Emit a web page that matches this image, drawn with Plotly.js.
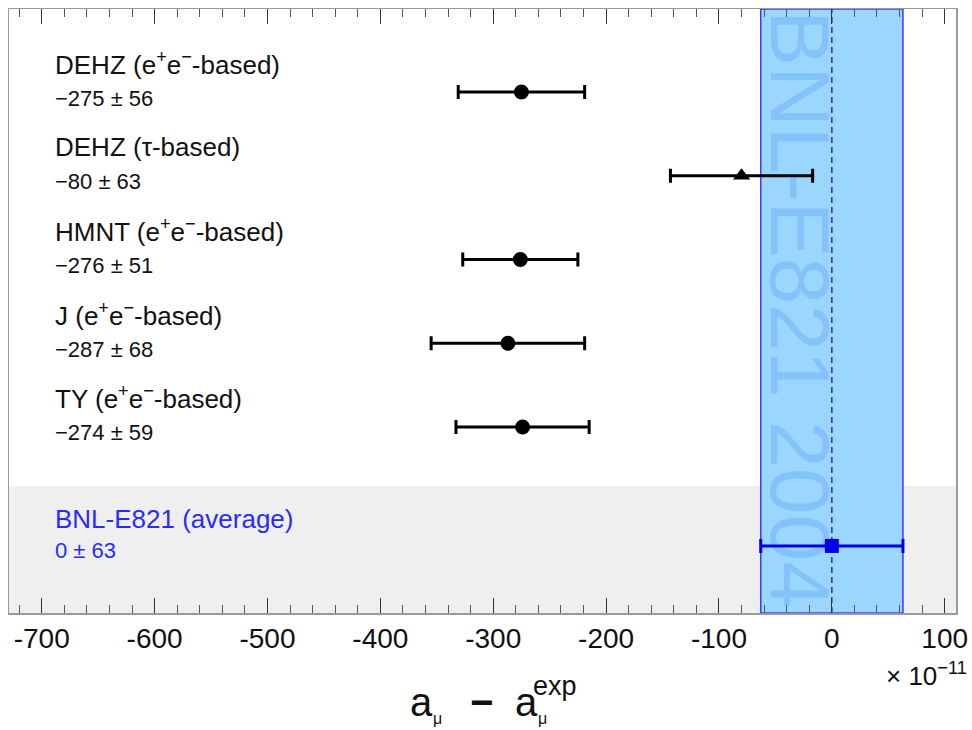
<!DOCTYPE html>
<html>
<head>
<meta charset="utf-8">
<script src="https://cdn.plot.ly/plotly-3.0.1.min.js"></script>
<style>html,body{margin:0;padding:0;background:#fff;}#chart{width:972px;height:730px;}</style>
</head>
<body>
<div id="chart"></div>
<script>
// ---- data ----
const names = [
  "DEHZ (e<sup>+</sup>e<sup>−</sup>-based)",
  "DEHZ (τ-based)",
  "HMNT (e<sup>+</sup>e<sup>−</sup>-based)",
  "J (e<sup>+</sup>e<sup>−</sup>-based)",
  "TY (e<sup>+</sup>e<sup>−</sup>-based)",
  "BNL-E821 (average)"
];
const values = [-275, -80, -276, -287, -274, 0];
const errors = [56, 63, 51, 68, 59, 63];
const markerKinds = ["circle", "triangle-up", "circle", "circle", "circle", "square"];
const tickValues = [-700, -600, -500, -400, -300, -200, -100, 0, 100];
const tickLabels = ["-700", "-600", "-500", "-400", "-300", "-200", "-100", "0", "100"];
const bandLabel = "BNL-E821 2004";

// ---- layout helpers ----
const L = 9, R = 956, T = 9, B = 613;
const W = R - L, H = B - T;
const px = x => (x - L) / W;
const py = y => (B - y) / H;
const rowY = names.map((_, i) => i < 5 ? i : 5.42);
const isRef = names.map((_, i) => i === 5);
const FONT = "Liberation Sans, Arial, Helvetica, sans-serif";

function makeTrace(kind, color, size) {
  const idx = values.map((_, i) => i).filter(i => markerKinds[i] === kind);
  return {
    type: "scatter", mode: "markers",
    x: idx.map(i => values[i]), y: idx.map(i => rowY[i]),
    error_x: { type: "data", array: idx.map(i => errors[i]), visible: true,
               color: color, thickness: 3, width: 7 },
    marker: { symbol: kind, color: color, size: size },
    hoverinfo: "skip", showlegend: false, cliponaxis: false
  };
}
const traces = [
  makeTrace("circle", "#000000", 15),
  makeTrace("triangle-up", "#000000", 15),
  makeTrace("square", "#0000e6", 14)
];

const refIdx = isRef.indexOf(true);
const refVal = values[refIdx], refErr = errors[refIdx];

const annotations = [];
names.forEach((n, i) => {
  const col = isRef[i] ? "#2b2bf5" : "#111111";
  const v = values[i];
  const valTxt = (v < 0 ? "−" + Math.abs(v) : String(v)) + " ± " + errors[i];
  annotations.push({ xref: "paper", yref: "y", x: px(53), y: rowY[i], yshift: isRef[i] ? 27 : 29,
    text: n, showarrow: false, xanchor: "left", yanchor: "middle",
    font: { family: FONT, size: 26, color: col } });
  annotations.push({ xref: "paper", yref: "y", x: px(53), y: rowY[i], yshift: isRef[i] ? -5 : -6,
    text: valTxt, showarrow: false, xanchor: "left", yanchor: "middle",
    font: { family: FONT, size: 22, color: col } });
});
// axis title pieces
const tf = { family: FONT, color: "#111" };
annotations.push({ xref: "paper", yref: "paper", x: px(421), y: py(702), text: "a", showarrow: false,
  xanchor: "center", yanchor: "middle", font: Object.assign({ size: 40 }, tf) });
annotations.push({ xref: "paper", yref: "paper", x: px(437), y: py(719), text: "μ", showarrow: false,
  xanchor: "center", yanchor: "middle", font: Object.assign({ size: 16 }, tf) });
annotations.push({ xref: "paper", yref: "paper", x: px(481), y: py(702), text: "<b>−</b>", showarrow: false,
  xanchor: "center", yanchor: "middle", font: Object.assign({ size: 40 }, tf) });
annotations.push({ xref: "paper", yref: "paper", x: px(526), y: py(702), text: "a", showarrow: false,
  xanchor: "center", yanchor: "middle", font: Object.assign({ size: 40 }, tf) });
annotations.push({ xref: "paper", yref: "paper", x: px(542), y: py(719), text: "μ", showarrow: false,
  xanchor: "center", yanchor: "middle", font: Object.assign({ size: 16 }, tf) });
annotations.push({ xref: "paper", yref: "paper", x: px(555), y: py(686), text: "exp", showarrow: false,
  xanchor: "center", yanchor: "middle", font: Object.assign({ size: 27 }, tf) });
annotations.push({ xref: "paper", yref: "paper", x: px(969), y: py(674), text: "× 10<sup>−11</sup>", showarrow: false,
  xanchor: "right", yanchor: "middle", font: Object.assign({ size: 26 }, tf) });

const shapes = [
  { type: "rect", xref: "paper", yref: "paper", x0: 0, x1: 1, y0: 0, y1: py(486),
    fillcolor: "#efefef", line: { width: 0 }, layer: "below" },
  { type: "rect", xref: "x", yref: "paper", x0: refVal - refErr, x1: refVal + refErr, y0: 0, y1: 1,
    fillcolor: "#9bd6ff", line: { color: "#3a3aff", width: 1.5 }, layer: "below" },
  { type: "rect", xref: "x", yref: "paper", x0: refVal - 40, x1: refVal - 2, y0: py(598), y1: py(20),
    fillcolor: "rgba(0,0,0,0)", line: { width: 0 }, layer: "below",
    label: { text: bandLabel, textangle: 90, textposition: "middle center",
             font: { family: FONT, size: 84, color: "#84c3fa" } } },
  { type: "line", xref: "x", yref: "paper", x0: refVal, x1: refVal, y0: 0, y1: 1,
    line: { color: "#2a2af0", width: 1.5, dash: "6px,4px" }, layer: "below" }
];

const layout = {
  width: 972, height: 730,
  margin: { l: L, r: 972 - R, t: T, b: 730 - B, pad: 0 },
  paper_bgcolor: "#ffffff", plot_bgcolor: "#ffffff",
  showlegend: false,
  xaxis: {
    range: [-729, 110], tickmode: "array", tickvals: tickValues, ticktext: tickLabels,
    ticks: "inside", ticklen: 15, tickwidth: 1, tickcolor: "#333",
    minor: { dtick: 20, tick0: 0, ticks: "inside", ticklen: 8, tickwidth: 1, tickcolor: "#555" },
    showline: true, linecolor: "#9a9a9a", linewidth: 1.5, mirror: "ticks",
    showgrid: false, zeroline: false, ticklabelstandoff: 0,
    tickfont: { family: FONT, size: 28, color: "#111" }
  },
  yaxis: {
    range: [6.221, -0.991], showline: true, linecolor: "#9a9a9a", linewidth: 1.5, mirror: true,
    ticks: "", showticklabels: false, showgrid: false, zeroline: false
  },
  shapes: shapes,
  annotations: annotations
};

Plotly.newPlot("chart", traces, layout, { displayModeBar: false, staticPlot: true });
</script>
</body>
</html>
